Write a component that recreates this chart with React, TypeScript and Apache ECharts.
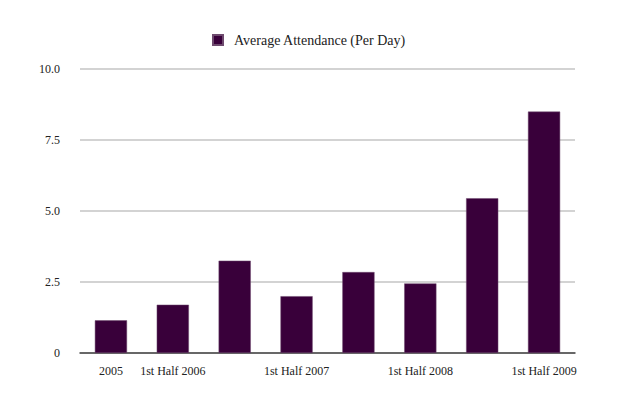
import React, { useEffect, useRef } from "react";
import * as echarts from "echarts";

const categories = [
  "2005",
  "1st Half 2006",
  "2nd Half 2006",
  "1st Half 2007",
  "2nd Half 2007",
  "1st Half 2008",
  "2nd Half 2008",
  "1st Half 2009",
];
const attendance = [1.15, 1.7, 3.25, 2.0, 2.85, 2.45, 5.45, 8.5];
const shownLabels = [0, 1, 3, 5, 7];
const seriesName = "Average Attendance (Per Day)";

const FONT = "'Liberation Serif', 'DejaVu Serif', serif";

export default function App() {
  const ref = useRef<HTMLDivElement>(null);
  useEffect(() => {
    if (!ref.current) return;
    const chart = echarts.init(ref.current, undefined, { renderer: "svg" });
    chart.setOption({
      animation: false,
      textStyle: { fontFamily: FONT },
      legend: {
        top: 28,
        left: 207,
        itemWidth: 10,
        itemHeight: 10,
        itemGap: 10,
        icon: "rect",
        textStyle: { fontFamily: FONT, fontSize: 14, color: "#222", padding: [0, 0, 0, 6] },
        data: [seriesName],
      },
      grid: { left: 80, right: 53, top: 69, bottom: 44, containLabel: false },
      xAxis: {
        type: "category",
        data: categories,
        axisLine: { show: true, lineStyle: { color: "#444", width: 1.5 } },
        axisTick: { show: false },
        axisLabel: {
          interval: (i: number) => shownLabels.includes(i),
          fontFamily: FONT,
          fontSize: 12,
          color: "#222",
          margin: 12,
        },
      },
      yAxis: {
        type: "value",
        min: 0,
        max: 10,
        interval: 2.5,
        axisLine: { show: false },
        axisTick: { show: false },
        splitLine: { lineStyle: { color: "#c4c4c4", width: 1.5 } },
        axisLabel: {
          fontFamily: FONT,
          fontSize: 12,
          color: "#222",
          margin: 20,
          formatter: (v: number) => (v === 0 ? "0" : v.toFixed(1)),
        },
      },
      series: [
        {
          name: seriesName,
          type: "bar",
          data: attendance,
          barWidth: "52%",
          itemStyle: { color: "#39003a", borderColor: "#6e4a6e", borderWidth: 0.5 },
        },
      ],
    });
    return () => chart.dispose();
  }, []);
  return (
    <div
      ref={ref}
      style={{ position: "absolute", left: 0, top: 0, width: 628, height: 397, background: "#fff" }}
    />
  );
}
